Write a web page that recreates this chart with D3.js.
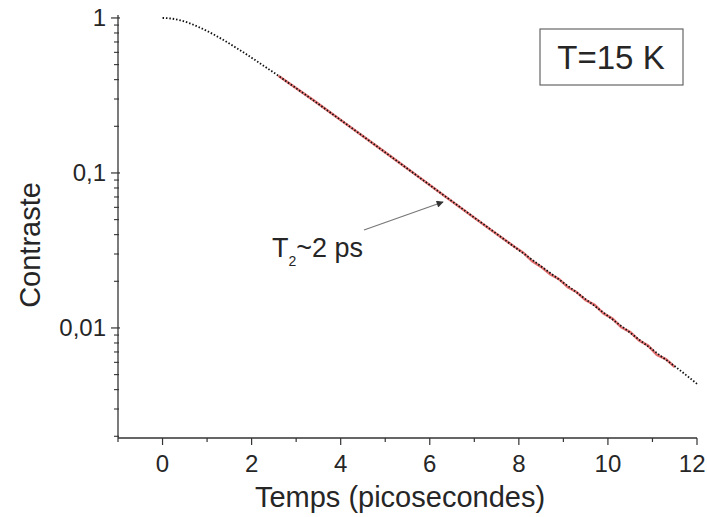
<!DOCTYPE html>
<html><head><meta charset="utf-8">
<script src="https://cdn.jsdelivr.net/npm/d3@7"></script>
<style>body{margin:0;background:#fff}svg{display:block}text{font-family:"Liberation Sans",Arial,sans-serif;fill:#262626}</style>
</head><body><svg id="c" width="707" height="517"></svg>
<script>
const times = [0,0.2,0.4,0.6,0.8,1,1.2,1.4,1.6,1.8,2,2.2,2.4,2.6,2.8,3,3.2,3.4,3.6,3.8,4,4.2,4.4,4.6,4.8,5,5.2,5.4,5.6,5.8,6,6.2,6.4,6.6,6.8,7,7.2,7.4,7.6,7.8,8,8.2,8.4,8.6,8.8,9,9.2,9.4,9.6,9.8,10,10.2,10.4,10.6,10.8,11,11.2,11.4,11.6,11.8,12];
const contraste = [1,0.991,0.965,0.926,0.877,0.824,0.768,0.711,0.656,0.604,0.554,0.507,0.464,0.424,0.386,0.352,0.321,0.292,0.2655,0.2415,0.2195,0.1994,0.1812,0.1646,0.1494,0.1357,0.1231,0.1118,0.1014,0.0920,0.0836,0.0758,0.0689,0.0626,0.0568,0.0515,0.0468,0.0425,0.0386,0.0350,0.0318,0.0289,0.0262,0.0238,0.0216,0.0196,0.0178,0.0161,0.01460,0.01320,0.01195,0.01080,0.00980,0.00885,0.00800,0.00725,0.00655,0.00595,0.00538,0.00485,0.00436];
const fitTimes = [2.6,3.4,4.2,5,5.8,6.6,7.4,7.9,8.1,8.3,8.5,8.7,8.9,9.1,9.3,9.5,9.7,9.9,10.1,10.3,10.5,10.7,10.9,11.1,11.3,11.5];
const fitValues = [0.424,0.293,0.1995,0.1358,0.0921,0.0624,0.0424,0.0334,0.0306,0.0270,0.0248,0.0222,0.0207,0.0183,0.0170,0.0151,0.0141,0.0124,0.0115,0.0101,0.0094,0.0083,0.0077,0.0067,0.0063,0.0056];
const xTicks = [0,2,4,6,8,10,12];
const yTickLabels = ["1","0,1","0,01"];
const yTickValues = [1,0.1,0.01];

const svg = d3.select("#c");
const W = 707;
const x = d3.scaleLinear().domain([-1,12]).range([118,697]);
const y = d3.scaleLog().domain([0.00195,1.045]).range([438,15]);
const axisCol = "#333";

// x axis
const gx = svg.append("g").attr("transform","translate(0,438)");
gx.append("line").attr("x1",118).attr("x2",697).attr("stroke",axisCol).attr("stroke-width",1.3);
d3.range(-1,13).forEach(v=>{
  const major = v%2===0;
  gx.append("line").attr("x1",x(v)).attr("x2",x(v)).attr("y1",0).attr("y2",major?7:4).attr("stroke",axisCol).attr("stroke-width",1.2);
});
xTicks.forEach(v=>{
  const t = gx.append("text").attr("y",34).attr("text-anchor","middle").attr("font-size",24).text(v);
  const half = String(v).length*0.556*24/2;
  t.attr("x",Math.min(x(v), W-half-1.5));
});

// y axis
const gy = svg.append("g").attr("transform","translate(118,0)");
gy.append("line").attr("y1",15).attr("y2",438).attr("stroke",axisCol).attr("stroke-width",1.3);
const minor = [];
[0.001,0.01,0.1].forEach(d=>{for(let k=2;k<=9;k++){const v=d*k; if(v>=0.00195 && v<=1.045) minor.push(v);}});
minor.forEach(v=>gy.append("line").attr("x1",-4).attr("x2",1).attr("y1",y(v)).attr("y2",y(v)).attr("stroke",axisCol).attr("stroke-width",1.1));
yTickValues.forEach((v,i)=>{
  gy.append("line").attr("x1",-7).attr("x2",2).attr("y1",y(v)).attr("y2",y(v)).attr("stroke",axisCol).attr("stroke-width",1.2);
  gy.append("text").attr("x",-12).attr("y",y(v)+8.5).attr("text-anchor","end").attr("font-size",24).text(yTickLabels[i]);
});

// axis titles
svg.append("text").attr("transform","translate(40,245) rotate(-90)").attr("text-anchor","middle").attr("font-size",29).text("Contraste");
svg.append("text").attr("x",400).attr("y",507).attr("text-anchor","middle").attr("font-size",29).text("Temps (picosecondes)");

// red fit line
const line = d3.line().x(d=>x(d[0])).y(d=>y(d[1]));
svg.append("path").datum(fitTimes.map((t,i)=>[t,fitValues[i]])).attr("d",line)
  .attr("fill","none").attr("stroke","#e05050").attr("stroke-width",2.6).attr("opacity",0.8);

// black dotted data
svg.append("path").datum(times.map((t,i)=>[t,contraste[i]])).attr("d",d3.line().curve(d3.curveMonotoneX).x(d=>x(d[0])).y(d=>y(d[1])))
  .attr("fill","none").attr("stroke","#111").attr("stroke-width",1.8).attr("stroke-dasharray","1.5,1.9");

// T=15 K box
svg.append("rect").attr("x",540).attr("y",29).attr("width",143).attr("height",56).attr("fill","#fff").attr("stroke","#666").attr("stroke-width",1.2);
svg.append("text").attr("x",611).attr("y",69).attr("text-anchor","middle").attr("font-size",33).text("T=15 K");

// T2 annotation
const ann = svg.append("text").attr("x",272).attr("y",257).attr("font-size",27);
ann.append("tspan").text("T");
ann.append("tspan").attr("font-size",14).attr("dy",9).text("2");
ann.append("tspan").attr("dy",-9).text("~2 ps");

svg.append("defs").append("marker").attr("id","ah").attr("viewBox","0 0 10 10").attr("refX",9).attr("refY",5)
  .attr("markerWidth",10).attr("markerHeight",7).attr("orient","auto").attr("markerUnits","userSpaceOnUse")
  .append("path").attr("d","M0,0L10,5L0,10z").attr("fill","#333");
svg.append("line").attr("x1",364).attr("y1",230).attr("x2",443).attr("y2",202).attr("stroke","#777").attr("stroke-width",1.2).attr("marker-end","url(#ah)");
</script></body></html>
